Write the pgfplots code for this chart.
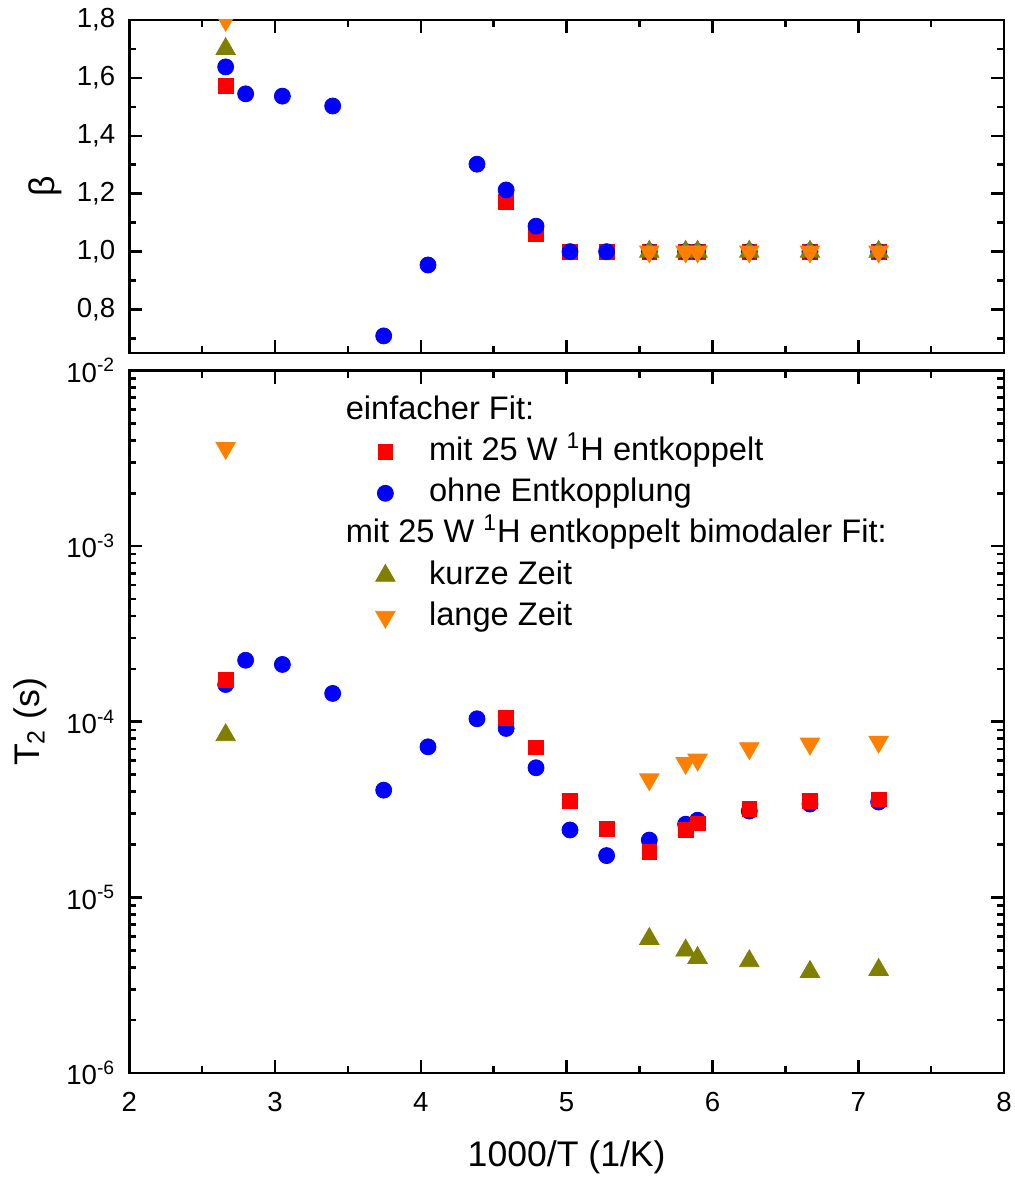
\documentclass[border=0pt]{standalone}
\usepackage{pgfplots}
\pgfplotsset{compat=1.18}
\usepackage{fontspec}
\setmainfont{Liberation Sans}

\definecolor{fitred}{RGB}{255,0,0}
\definecolor{fitblue}{RGB}{0,0,255}
\definecolor{fitolive}{RGB}{128,128,0}
\definecolor{fitorange}{RGB}{255,128,0}

\pgfplotsset{
  panel/.style={
    scale only axis, width=437.35pt,
    xmin=2, xmax=8, xtick={2,3,4,5,6,7,8},
    minor xtick={2.5,3.5,4.5,5.5,6.5,7.5},
    axis line style={line width=1.3pt},
    tick style={line width=1.3pt, black},
    major tick length=6.5pt, minor tick length=3.5pt,
    tick align=inside,
    tick label style={font=\fontsize{13.8}{16}\selectfont},
    label style={font=\fontsize{17.8}{21}\selectfont},
    xticklabel style={yshift=-6pt},
    yticklabel style={xshift=-3.5pt},
    /pgf/number format/assume math mode=true,
    clip marker paths=true,
  },
  redmk/.style={only marks, color=fitred, mark=square*, mark size=3.7pt,
    mark options={fill=fitred}},
  bluemk/.style={only marks, color=fitblue, mark=*, mark size=4.0pt,
    mark options={fill=fitblue}},
  olivemk/.style={only marks, color=fitolive, mark=triangle*, mark size=5.6pt,
    mark options={fill=fitolive}},
  orangemk/.style={only marks, color=fitorange, mark=triangle*, mark size=5.6pt,
    mark options={fill=fitorange, rotate=180}},
}

\begin{document}
\begin{tikzpicture}
\useasboundingbox (-64.65pt,-52.5pt) rectangle (442.85pt,536.5pt);

% stretch exponent beta
\begin{axis}[panel,
  at={(0pt,360pt)}, anchor=south west, height=166.5pt,
  ymin=0.65, ymax=1.8,
  ytick={0.8,1.0,1.2,1.4,1.6,1.8},
  minor ytick={0.7,0.9,1.1,1.3,1.5,1.7},
  xticklabels={},
  yticklabel style={/pgf/number format/.cd, use comma, fixed, fixed zerofill, precision=1},
  ylabel={β},
  ylabel style={at={(axis description cs:-0.0964,0.5)}, anchor=center},
]
\addplot[redmk] coordinates {
  (2.661,1.571) (4.585,1.172) (4.790,1.060) (5.023,1.0) (5.274,1.0)
  (5.567,1.0) (5.816,1.0) (5.898,1.0) (6.253,1.0) (6.669,1.0) (7.140,1.0)
};
\addplot[bluemk] coordinates {
  (2.661,1.638) (2.798,1.545) (3.050,1.537) (3.395,1.503) (3.745,0.709)
  (4.049,0.954) (4.385,1.302) (4.585,1.213) (4.790,1.088) (5.023,1.0)
  (5.274,1.0) (5.567,1.0) (5.816,1.0) (5.898,1.0) (6.253,1.0)
  (6.669,1.0) (7.140,1.0)
};
\addplot[olivemk] coordinates {
  (2.661,1.70) (5.567,1.0) (5.816,1.0) (5.898,1.0) (6.253,1.0) (6.669,1.0) (7.140,1.0)
};
\addplot[orangemk] coordinates {
  (2.661,1.80) (5.567,1.0) (5.816,1.0) (5.898,1.0) (6.253,1.0) (6.669,1.0) (7.140,1.0)
};
\end{axis}

% relaxation time T2
\begin{axis}[panel,
  at={(0pt,0pt)}, anchor=south west, height=351.25pt,
  ymode=log, ymin=1e-6, ymax=1e-2,
  ytick={1e-6,1e-5,1e-4,1e-3,1e-2},
  yticklabels={10\textsuperscript{-6},10\textsuperscript{-5},10\textsuperscript{-4},10\textsuperscript{-3},10\textsuperscript{-2}},
  minor ytick={2e-6,3e-6,4e-6,5e-6,6e-6,7e-6,8e-6,9e-6,
               2e-5,3e-5,4e-5,5e-5,6e-5,7e-5,8e-5,9e-5,
               2e-4,3e-4,4e-4,5e-4,6e-4,7e-4,8e-4,9e-4,
               2e-3,3e-3,4e-3,5e-3,6e-3,7e-3,8e-3,9e-3},
  xlabel={1000/T (1/K)},
  xlabel style={at={(axis description cs:0.5,-0.1196)}, anchor=center},
  ylabel={T\textsubscript{2} (s)},
  ylabel style={at={(axis description cs:-0.1135,0.5)}, anchor=center},
  legend cell align=left,
  legend style={draw=none, fill=none, inner sep=0pt,
    at={(rel axis cs:0.2728,0.968)}, anchor=north west,
    font=\fontsize{16.3}{19}\selectfont, row sep=3.1pt,
    /tikz/every odd column/.append style={column sep=15pt},
    nodes={text height=12pt, text depth=3.5pt, inner ysep=1pt}},
]
\addlegendimage{empty legend}
\addlegendentry{\hspace*{-41.65pt}einfacher Fit:}
\addlegendimage{redmk}
\addlegendentry{mit 25 W \textsuperscript{1}H entkoppelt}
\addlegendimage{bluemk}
\addlegendentry{ohne Entkopplung}
\addlegendimage{empty legend}
\addlegendentry{\hspace*{-41.65pt}mit 25 W \textsuperscript{1}H entkoppelt bimodaler Fit:}
\addlegendimage{olivemk}
\addlegendentry{kurze Zeit}
\addlegendimage{orangemk}
\addlegendentry{lange Zeit}

\addplot[bluemk, forget plot] coordinates {
  (2.661,1.63e-4) (2.798,2.24e-4) (3.050,2.12e-4) (3.395,1.45e-4) (3.745,4.08e-5)
  (4.049,7.20e-5) (4.385,1.04e-4) (4.585,9.16e-5) (4.790,5.47e-5) (5.023,2.42e-5)
  (5.274,1.73e-5) (5.567,2.12e-5) (5.816,2.61e-5) (5.898,2.75e-5) (6.253,3.10e-5)
  (6.669,3.40e-5) (7.140,3.49e-5)
};
\addplot[redmk, forget plot] coordinates {
  (2.661,1.73e-4) (4.585,1.055e-4) (4.790,7.15e-5) (5.023,3.55e-5) (5.274,2.46e-5)
  (5.567,1.81e-5) (5.816,2.42e-5) (5.898,2.64e-5) (6.253,3.20e-5) (6.669,3.55e-5)
  (7.140,3.61e-5)
};
\addplot[olivemk, forget plot] coordinates {
  (2.661,8.4e-5) (5.567,5.81e-6) (5.816,4.99e-6) (5.898,4.53e-6) (6.253,4.34e-6)
  (6.669,3.77e-6) (7.140,3.87e-6)
};
\addplot[orangemk, forget plot] coordinates {
  (2.661,3.62e-3) (5.567,4.70e-5) (5.816,5.82e-5) (5.898,6.08e-5) (6.253,7.06e-5)
  (6.669,7.50e-5) (7.140,7.69e-5)
};
\end{axis}
\end{tikzpicture}
\end{document}
